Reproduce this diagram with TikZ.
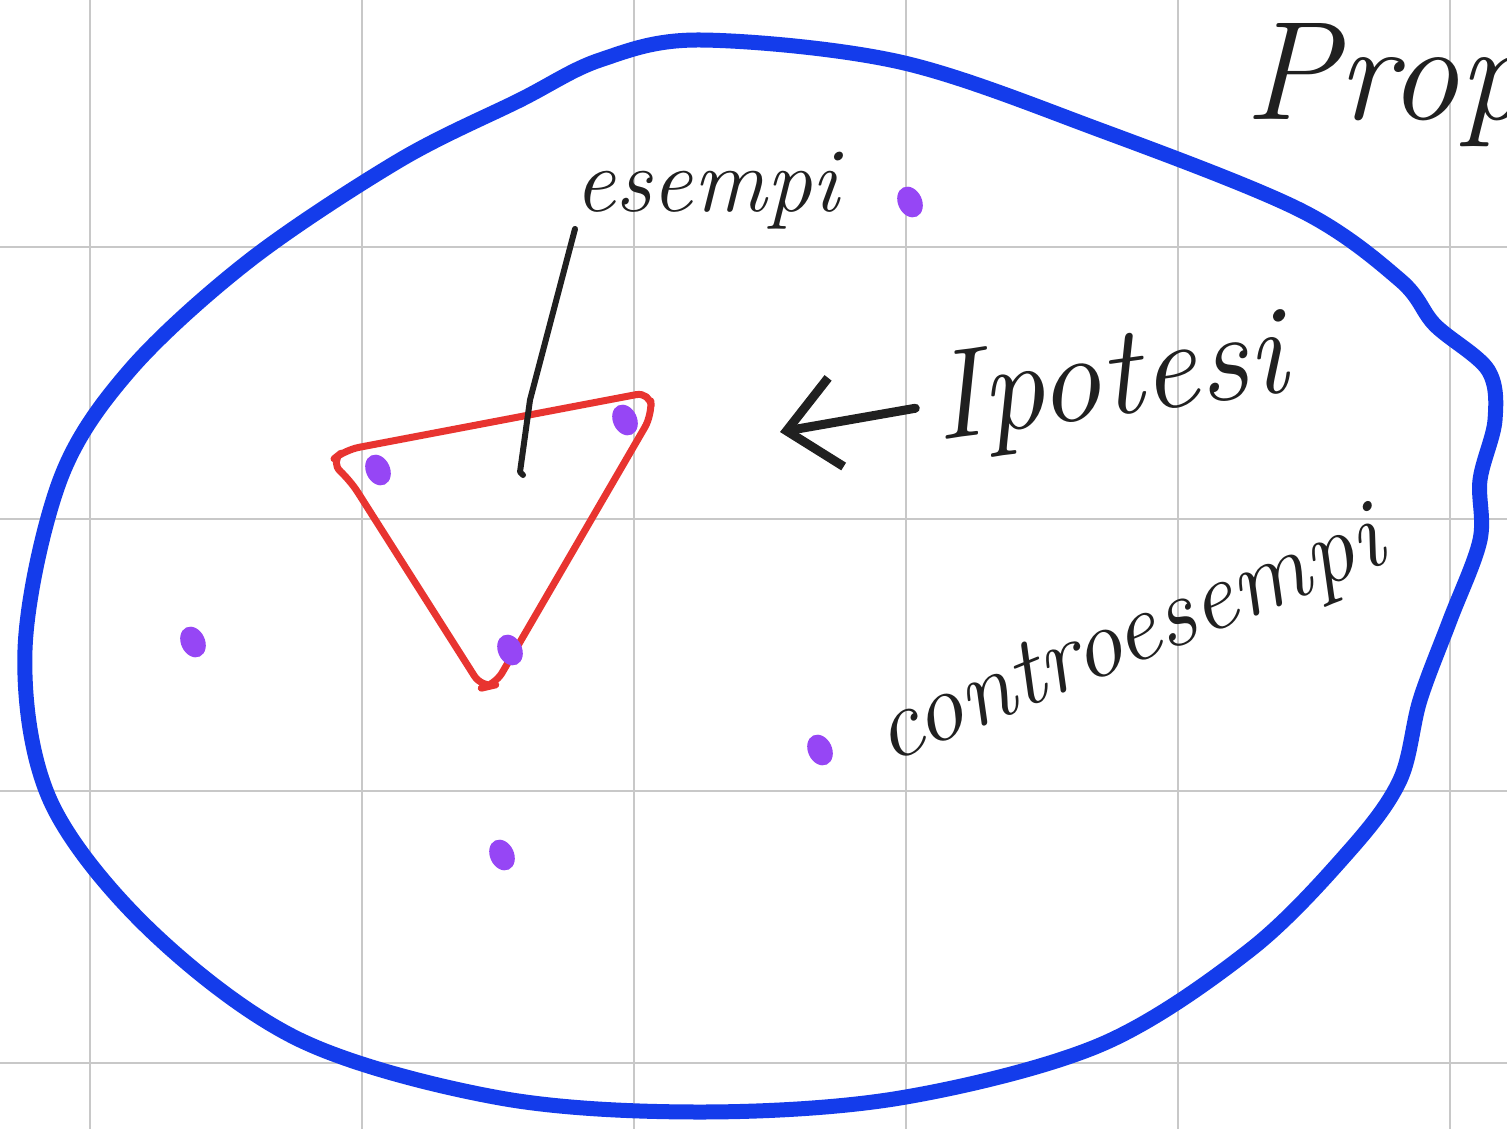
\documentclass[tikz,border=0pt]{standalone}
\usepackage{xcolor}
\usepackage{tikz}
\usetikzlibrary{arrows.meta,positioning}

\definecolor{inkblue}{RGB}{20,60,235}
\definecolor{inkred}{RGB}{232,52,48}
\definecolor{inkpurple}{RGB}{150,70,245}
\definecolor{inkblack}{RGB}{32,32,32}
\definecolor{gridgray}{RGB}{200,200,200}

\begin{document}
\begin{tikzpicture}[
  gridline/.style={draw=gridgray, line width=0.25mm},
  setline/.style={draw=inkblue, line width=1.5mm, line cap=round, line join=round},
  triline/.style={draw=inkred, line width=0.7mm, line join=round},
  pt/.style={fill=inkpurple, draw=none},
  ink/.style={draw=inkblack, line width=0.6mm, line cap=round, line join=round},
  arr/.style={ink, line width=0.9mm, -{Straight Barb[length=5mm, width=9mm, line width=0.9mm]}},
  word/.style={text=inkblack, inner sep=1pt, font=\itshape},
]
  \clip (0,0) rectangle (15.07,-11.29);
  \fill[white] (0,0) rectangle (15.07,-11.29);

  % squared paper
  \foreach \x in {0.90,3.62,6.34,9.06,11.78,14.50}
    \draw[gridline] (\x,0) -- (\x,-11.29);
  \foreach \y in {2.47,5.19,7.91,10.63}
    \draw[gridline] (0,-\y) -- (15.07,-\y);

  % the whole set
  \draw[setline] plot[smooth cycle, tension=0.55] coordinates {
    (7.00,-0.40) (9.00,-0.62) (11.00,-1.30) (13.00,-2.10) (14.00,-2.80)
    (14.35,-3.25) (14.88,-3.70) (14.95,-4.20) (14.80,-4.80) (14.80,-5.40)
    (14.50,-6.20) (14.20,-7.00) (14.00,-7.80) (13.50,-8.50) (12.50,-9.50)
    (11.00,-10.45) (9.00,-10.98) (7.00,-11.12) (5.00,-10.98) (3.00,-10.40)
    (1.50,-9.30) (0.50,-8.00) (0.25,-6.50) (0.60,-4.80) (1.30,-3.70)
    (2.50,-2.60) (4.00,-1.60) (5.20,-1.00) (6.00,-0.60)};

  % hypotheses
  \draw[triline, rounded corners=4pt]
    (3.30,-4.62) -- (3.45,-4.50) -- (6.50,-3.92) -- (6.52,-4.15)
    -- (4.95,-6.85) -- (4.82,-6.88) -- (3.50,-4.80) -- cycle;

  % examples and counterexamples
  \foreach \px/\py in {3.78/4.70, 6.25/4.20, 5.10/6.50, 1.93/6.42,
                       5.02/8.55, 8.20/7.50, 9.10/2.02}
    \fill[pt, rotate around={25:(\px,-\py)}] (\px,-\py) ellipse (0.12 and 0.16);

  % labels
  \node[word, anchor=base west, font=\itshape\fontsize{26}{30}\selectfont]
    (esempi) at (5.70,-2.12) {esempi};
  \node[word, rotate=8, font=\itshape\fontsize{36}{40}\selectfont]
    (ipotesi) at (11.10,-3.85) {Ipotesi};
  \node[word, anchor=base west, rotate=22, font=\itshape\fontsize{28}{32}\selectfont]
    (controesempi) at (8.85,-7.65) {controesempi};
  \node[word, anchor=base west, font=\itshape\fontsize{40}{44}\selectfont]
    (prop) at (12.40,-1.20) {Prop};

  \coordinate (inside) at (5.20,-4.72);
  \coordinate (towardtri) at (7.80,-4.32);

  \draw[ink] (esempi.south west) ++(0.05,0.05) -- (5.30,-4.00) -- (inside) -- ++(0.03,-0.03);
  \draw[arr] (ipotesi.west) ++(-0.15,0.02) -- (towardtri);
\end{tikzpicture}
\end{document}
